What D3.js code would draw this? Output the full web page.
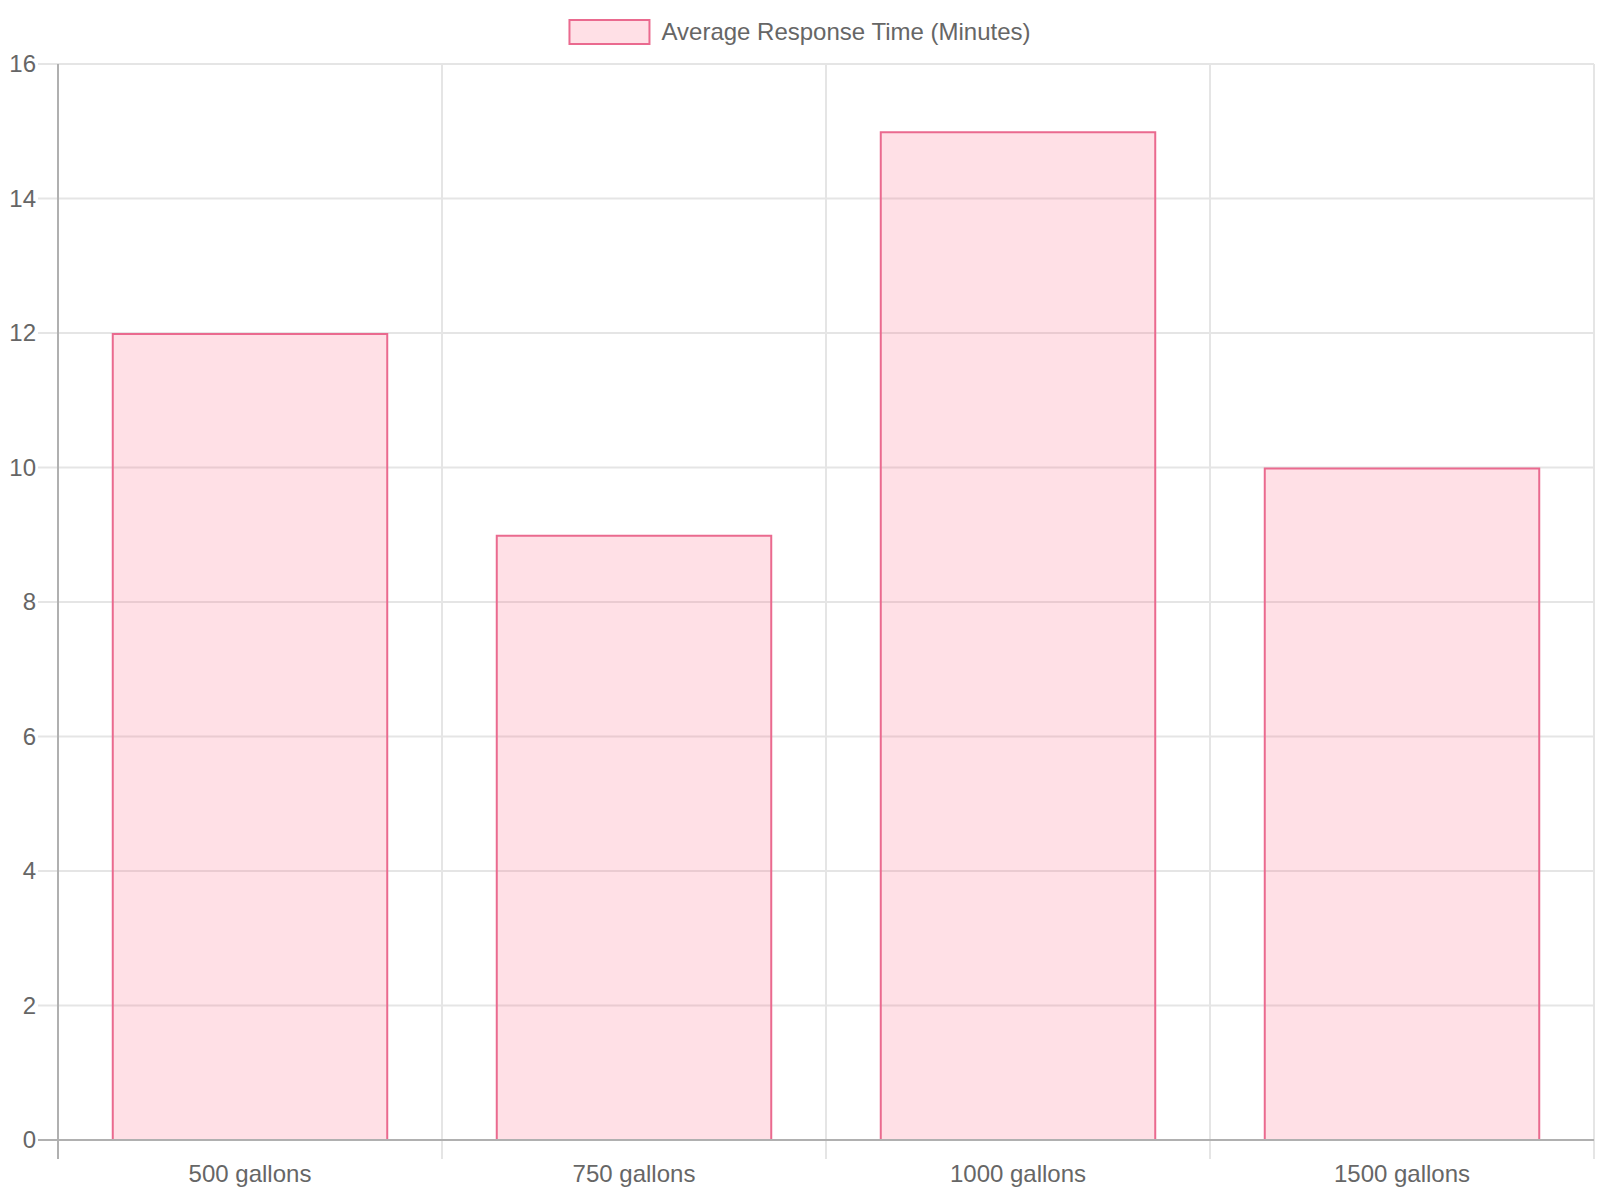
<!DOCTYPE html>
<html>
<head>
<meta charset="utf-8">
<script src="https://cdn.jsdelivr.net/npm/d3@7"></script>
<style>
  body { margin: 0; background: #fff; }
  svg { display: block; font-family: "Liberation Sans", Arial, sans-serif; }
</style>
</head>
<body>
<svg id="chart"></svg>
<script>
var categories = ["500 gallons", "750 gallons", "1000 gallons", "1500 gallons"];
var values = [12, 9, 15, 10];
var yTicks = [0, 2, 4, 6, 8, 10, 12, 14, 16];
var seriesName = "Average Response Time (Minutes)";

var width = 1600, height = 1200;
var margin = {top: 64, right: 6, bottom: 60, left: 58};
var fill = "rgba(255, 99, 132, 0.2)";
var stroke = "#ea6a8f";
var gridColor = "#e5e5e5";
var axisColor = "#b0b0b0";
var textColor = "#666";

var svg = d3.select("#chart")
	.attr("width", width)
	.attr("height", height);

var x = d3.scaleBand()
	.domain(categories)
	.range([margin.left, width - margin.right])
	.padding(0);

var y = d3.scaleLinear()
	.domain([0, 16])
	.range([height - margin.bottom, margin.top]);

// horizontal grid + y tick marks
svg.append("g").selectAll("line")
	.data(yTicks.filter(function(d) { return d !== 0; }))
	.enter().append("line")
	.attr("x1", margin.left - 20)
	.attr("x2", width - margin.right)
	.attr("y1", function(d) { return y(d); })
	.attr("y2", function(d) { return y(d); })
	.attr("stroke", gridColor)
	.attr("stroke-width", 2);

// vertical grid at band edges
var edges = categories.map(function(c) { return x(c); }).concat([width - margin.right]);
svg.append("g").selectAll("line")
	.data(edges.slice(1))
	.enter().append("line")
	.attr("x1", function(d) { return d; })
	.attr("x2", function(d) { return d; })
	.attr("y1", margin.top)
	.attr("y2", y(0) + 19)
	.attr("stroke", gridColor)
	.attr("stroke-width", 2);

// bars (border drawn inside the bar, like Chart.js)
var barW = x.bandwidth() * 0.72;
svg.append("g").selectAll("rect")
	.data(values)
	.enter().append("rect")
	.attr("x", function(d, i) { return x(categories[i]) + (x.bandwidth() - barW) / 2 + 1; })
	.attr("y", function(d) { return y(d) + 1; })
	.attr("width", barW - 2)
	.attr("height", function(d) { return y(0) - y(d) - 1; })
	.attr("fill", fill)
	.attr("stroke", stroke)
	.attr("stroke-width", 2);

// axes lines
svg.append("line")
	.attr("x1", margin.left - 20).attr("x2", width - margin.right)
	.attr("y1", y(0)).attr("y2", y(0))
	.attr("stroke", axisColor).attr("stroke-width", 2);
svg.append("line")
	.attr("x1", margin.left).attr("x2", margin.left)
	.attr("y1", margin.top).attr("y2", y(0) + 19)
	.attr("stroke", axisColor).attr("stroke-width", 2);

// y labels
svg.append("g").selectAll("text")
	.data(yTicks)
	.enter().append("text")
	.attr("x", margin.left - 22)
	.attr("y", function(d) { return y(d); })
	.attr("dy", "0.35em")
	.attr("text-anchor", "end")
	.attr("font-size", 24)
	.attr("fill", textColor)
	.text(function(d) { return d; });

// x labels
svg.append("g").selectAll("text")
	.data(categories)
	.enter().append("text")
	.attr("x", function(d) { return x(d) + x.bandwidth() / 2; })
	.attr("y", 1182)
	.attr("text-anchor", "middle")
	.attr("font-size", 24)
	.attr("fill", textColor)
	.text(function(d) { return d; });

// legend
var legend = svg.append("g");
var legendText = legend.append("text")
	.attr("x", 0)
	.attr("y", 40)
	.attr("font-size", 24)
	.attr("fill", textColor)
	.text(seriesName);
var tw = legendText.node().getComputedTextLength();
var boxW = 80, gap = 12;
var startX = width / 2 - (boxW + gap + tw) / 2;
legend.append("rect")
	.attr("x", startX)
	.attr("y", 20)
	.attr("width", boxW)
	.attr("height", 24)
	.attr("fill", fill)
	.attr("stroke", stroke)
	.attr("stroke-width", 2);
legendText.attr("x", startX + boxW + gap);
</script>
</body>
</html>
